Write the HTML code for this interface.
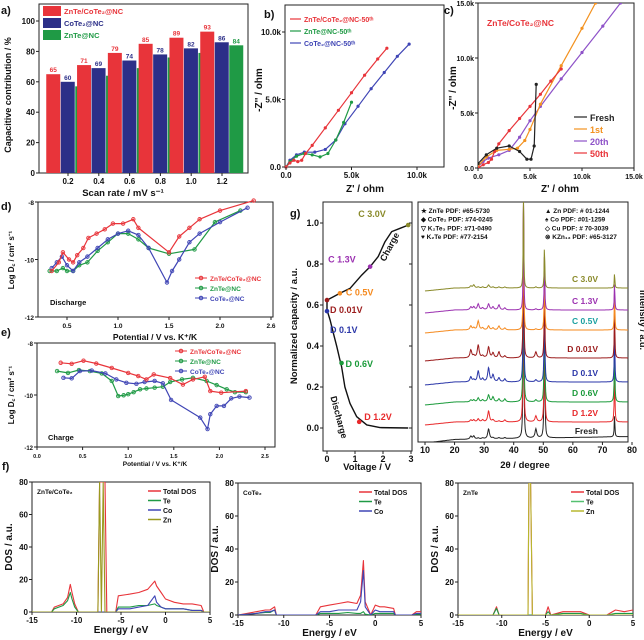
<!DOCTYPE html>
<html><head><meta charset="utf-8"><style>
html,body{margin:0;padding:0;background:#fff}
svg{display:block;font-family:"Liberation Sans",Arial,sans-serif;font-weight:bold}
</style></head><body>
<svg id="fig" width="644" height="640" viewBox="0 0 644 640" xmlns="http://www.w3.org/2000/svg"></svg>
<script>
// ---------- Panel a data ----------
const aRates=[0.2,0.4,0.6,0.8,1.0,1.2];
const aZnCo=[65,71,79,85,89,93];
const aCo=[60,69,74,78,82,86];
const aZn=[57,64,69,76,79,84];
const aYTicks=[0,20,40,60,80,100];
// ---------- Panel b data (k ohm) ----------
const bRedX=[0,0.3,0.6,0.9,1.2,1.5,2,3,4,5,6,7,7.7];
const bRedY=[0,0.3,0.5,0.4,0.5,1.0,1.6,2.9,4.2,5.5,6.8,8,8.8];
const bGreenX=[0,0.3,0.8,1.4,2,2.6,3.2,3.8,4.4,5];
const bGreenY=[0,0.4,0.8,1.0,0.9,0.75,1,2,3.3,4.8];
const bBlueX=[0,0.3,0.8,1.4,2.2,3,3.8,4.5,5.5,6.5,7.5,8.5,9.4];
const bBlueY=[0,0.5,0.9,1.1,1.1,1.3,2.0,3.2,4.5,5.8,7,8.2,9.1];
// ---------- Panel c data ----------
const cFreshX=[0,0.8,1.8,3,4,4.7,5.1,5.4,5.6];
const cFreshY=[0.4,1.2,1.8,2,1.5,0.8,0.8,2,7.6];
const c1stX=[0,0.8,1.8,3,3.8,4.5,5,6,8,10,11.3];
const c1stY=[0.2,1.0,1.6,1.7,1.8,2.5,3.5,5.8,9.3,12.7,15];
const c20X=[0,0.5,1,2,3,4,5,6,8,10,12,13.7];
const c20Y=[0.1,0.6,0.9,1.2,1.6,2.8,4.3,5.6,8.1,10.5,12.9,15];
const c50X=[0,0.5,1,1.3,1.6,2,3,4,5,6,7,8];
const c50Y=[0,0.3,0.5,0.8,1.5,2.2,3.4,4.5,5.6,6.7,7.9,9];
// ---------- Panel d data ----------
const dRedX=[0.35,0.42,0.46,0.52,0.56,0.6,0.66,0.71,0.79,0.87,0.95,1.05,1.15,1.2,1.5,1.6,1.7,1.8,2.0,2.33];
const dRedY=[-10.4,-10.1,-9.75,-10.0,-10.1,-9.85,-9.6,-9.25,-9.1,-8.95,-8.75,-8.75,-8.6,-8.9,-9.75,-9.2,-8.9,-8.6,-8.3,-7.95];
const dGreenX=[0.33,0.4,0.46,0.5,0.56,0.62,0.7,0.8,0.9,1.0,1.1,1.2,1.3,1.5,1.75,1.95,2.2];
const dGreenY=[-10.4,-10.4,-10.3,-10.4,-10.4,-10.2,-10.1,-9.7,-9.4,-9.1,-9.1,-9.3,-9.6,-9.8,-9.65,-8.7,-8.3];
const dBlueX=[0.35,0.4,0.45,0.5,0.56,0.62,0.7,0.8,0.9,1.0,1.1,1.2,1.3,1.48,1.53,1.6,1.7,1.8,2.0,2.27];
const dBlueY=[-10.3,-10.1,-9.9,-10.2,-10.4,-10.1,-9.9,-9.6,-9.3,-9.1,-9.0,-9.15,-9.6,-10.8,-10.4,-10.0,-9.4,-9.1,-8.7,-8.2];
// ---------- Panel e data ----------
const eRedX=[0.26,0.38,0.51,0.65,0.82,1.0,1.11,1.2,1.28,1.46,1.6,1.71,1.84,1.9,2.02,2.29];
const eRedY=[-8.76,-8.8,-8.68,-8.79,-8.96,-9.15,-9.27,-9.4,-9.21,-9.35,-9.6,-9.4,-9.3,-9.85,-9.91,-9.85];
const eGreenX=[0.22,0.34,0.46,0.58,0.71,0.82,0.89,0.95,1.0,1.06,1.13,1.2,1.29,1.38,1.46,1.59,1.71,1.86,1.97,2.08,2.17,2.29];
const eGreenY=[-9.08,-9.15,-9.04,-9.08,-9.17,-9.46,-10.04,-10.01,-9.97,-9.89,-9.78,-9.75,-9.72,-9.68,-9.5,-9.4,-9.34,-9.46,-9.62,-9.78,-9.89,-9.89];
const eBlueX=[0.29,0.38,0.47,0.6,0.75,0.87,0.98,1.09,1.18,1.29,1.38,1.47,1.79,1.87,1.9,1.97,2.05,2.13,2.22,2.33];
const eBlueY=[-9.34,-9.36,-9.08,-9.06,-9.17,-9.4,-9.53,-9.57,-9.5,-9.46,-9.55,-10.19,-10.87,-11.31,-10.74,-10.42,-10.42,-10.13,-10.06,-10.1];
// ---------- Panel g (left) data ----------
const gDisV=[0,0,0.11,0.23,0.35,0.46,0.52,0.64,0.82,1.06,1.42,1.89,2.9];
const gDisC=[0.624,0.576,0.527,0.462,0.397,0.332,0.299,0.2,0.12,0.055,0.015,0.002,0];
const gChV=[0,0.23,0.46,0.82,1.24,1.54,1.83,2.07,2.31,2.61,2.9];
const gChC=[0.624,0.64,0.657,0.681,0.746,0.787,0.836,0.909,0.958,0.974,0.99];
const gStateV=[2.9,1.54,0.46,0,0,0.52,1.15];
const gStateC=[0.99,0.787,0.657,0.624,0.57,0.317,0.03];
const gStateLbl=["C 3.0V","C 1.3V","C 0.5V","D 0.01V","D 0.1V","D 0.6V","D 1.2V"];
// ---------- Panel g (XRD) data ----------
const xrdNames=["C 3.0V","C 1.3V","C 0.5V","D 0.01V","D 0.1V","D 0.6V","D 1.2V","Fresh"];
const xrdPeaks=[25.5,26.5,28,29.5,31.5,33,35,37,43.3,47.5,50.4,74.1];
const xrdInt=[
 [2,3,1,1,3,1,1,1,86,1,45,16],
 [3,3,6,2,6,3,5,2,108,1,62,30],
 [4,2,9,2,4,2,4,2,128,1,78,42],
 [8,2,13,2,11,5,6,2,156,6,92,52],
 [5,2,11,3,14,7,4,3,180,2,116,60],
 [2,2,4,2,7,5,3,3,200,2,130,66],
 [2,2,3,2,11,2,1,2,220,6,150,62],
 [3,3,1,1,10,1,1,1,236,9,168,24]
];
// ---------- Panel f (DOS) data ----------
const f1E=[-15,-12.8,-12.5,-11.5,-11,-10.7,-10.5,-10.2,-9.8,-7.6,-7.4,-7.2,-7.0,-6.8,-6.6,-6.4,-5.6,-5.3,-4,-3,-2,-1.2,-1,-0.5,0,1,2,3,4,4.3,5];
const f1Tot=[0,0,3,5,9,17,12,5,0,0,80,80,80,80,0,0,0,10,11,12,14,19,16,12,8,6,5,5,4,0,0];
const f1Te=[0,0,2,4,7,12,8,3,0,0,0,0,0,0,0,0,0,3,3,4,4,5,4,3,2,2,2,1,1,0,0];
const f1Co=[0,0,0,0,0,0,0,0,0,0,0,0,0,0,0,0,0,2,2,3,4,10,6,3,2,2,2,1,1,0,0];
const f1Zn=[0,0,0,0,0,0,0,0,0,0,80,0,80,0,0,0,0,0,0,0,0,0,0,0,0,0,0,0,0,0,0];
const f2E=[-15,-13,-12,-11.5,-11,-10.8,-6.5,-6,-5,-4,-3,-2,-1.6,-1.3,-1.1,-0.5,0,0.5,1,2,2.2,4,4.5,5];
const f2Tot=[0,2,3,3,5,0,0,5,6,7,8,7,12,33,8,0,6,5,5,4,0,0,2,2];
const f2Te=[0,1,1.5,1.5,3,0,0,1,1,1,1.5,1,1,2,0.5,0,1,1,1,1,0,0,0.5,0.5];
const f2Co=[0,1,2,2,3,0,0,2,2,3,3,3,8,27,5,0,3,2,2,2,0,0,1,1];
const f3E=[-15,-11,-10.6,-10.3,-7,-6.9,-6.7,-6.5,-5,-4.7,-4.4,-3,-2,-1,0,2,3,4,5];
const f3Tot=[0,0,5,0,0,80,80,0,0,5,0,2,2,2,0,0,3,2,3];
const f3Te=[0,0,4,0,0,0,0,0,0,2,0,1,1,1,0,0,1,1,1];
const f3Zn=[0,0,0,0,0,80,80,0,0,0,0,0,0,0,0,0,0,0,0];

const NS="http://www.w3.org/2000/svg";
const svg=document.getElementById('fig');
function mk(tag,attrs,parent){const e=document.createElementNS(NS,tag);for(const k in attrs)e.setAttribute(k,attrs[k]);(parent||svg).appendChild(e);return e;}
function lin(d0,d1,r0,r1){return v=>r0+(v-d0)*(r1-r0)/(d1-d0);}
function txt(x,y,s,size,opt){opt=opt||{};const t=mk('text',{x:x,y:y,'font-size':size,fill:opt.fill||'#111','text-anchor':opt.anchor||'start'},opt.parent);if(opt.rot)t.setAttribute('transform','rotate('+opt.rot+' '+x+' '+y+')');t.textContent=s;


return t;}
function frame(x0,y0,x1,y1,name){const r=mk('rect',{x:x0,y:y0,width:x1-x0,height:y1-y0,fill:'none',stroke:'#222','stroke-width':1});


return r;}
function series(xsArr,ysArr,sx,sy,color,marker,name,w){
 const g=mk('g',{});
 
 
 const pts=xsArr.map((v,i)=>sx(v).toFixed(1)+','+sy(ysArr[i]).toFixed(1)).join(' ');
 mk('polyline',{points:pts,fill:'none',stroke:color,'stroke-width':w||1.2,'stroke-linejoin':'round'},g);
 if(marker){xsArr.forEach((v,i)=>{const c=mk('circle',{cx:sx(v),cy:sy(ysArr[i]),r:marker,fill:color,stroke:color,'stroke-width':0.8,'fill-opacity':marker>1.5?0.35:1},g);
 
 });}
 return g;}
function xticks(vals,sx,y,labels,size,up){vals.forEach((v,i)=>{mk('line',{x1:sx(v),x2:sx(v),y1:y,y2:y+(up?-3:3),stroke:'#222'});if(labels)txt(sx(v),y+11,labels[i],size||8,{anchor:'middle',name:'x-tick-label'});});}
function yticks(vals,sy,x,labels,size){vals.forEach((v,i)=>{mk('line',{x1:x,x2:x-3,y1:sy(v),y2:sy(v),stroke:'#222'});if(labels)txt(x-4,sy(v)+3,labels[i],size||8,{anchor:'end',name:'y-tick-label'});});}
const RED='#e8343a',NAVY='#2c2f88',GREEN='#1f9a45',BLUE='#3f45b5';

// ================= Panel a =================
(function(){
 const x0=39,x1=248,y0=4,y1=173;
 const sy=lin(0,100,173,21),sx=lin(0.2,1.2,68,222);
 frame(x0,y0,x1,y1,'panel-a-frame');
 const cols=[RED,NAVY,GREEN],sets=[aZnCo,aCo,aZn],names=['bar-znte-cote2','bar-cote2','bar-znte'];
 aRates.forEach((r,i)=>{sets.forEach((s,j)=>{const bx=sx(r)+(j-1.5)*14.5;
  const b=mk('rect',{x:bx,y:sy(s[i]),width:14,height:sy(0)-sy(s[i]),fill:cols[j]});
  
  
  txt(bx+7,sy(s[i])-2,String(s[i]),6.5,{anchor:'middle',fill:cols[j],name:'bar-value'});});});
 xticks(aRates,sx,y1,aRates.map(v=>v.toFixed(1)),8);
 yticks(aYTicks,sy,x0,aYTicks.map(String),8);
 txt(123,196,'Scan rate / mV s⁻¹',9.5,{anchor:'middle',name:'x-axis-title'});
 txt(11,95,'Capacitive contribution / %',9,{anchor:'middle',rot:-90,name:'y-axis-title'});
 const leg=[['ZnTe/CoTe₂@NC',RED],['CoTe₂@NC',NAVY],['ZnTe@NC',GREEN]];
 leg.forEach((l,i)=>{const r=mk('rect',{x:43,y:6+i*12,width:18,height:10,fill:l[1]});
  
  
  txt(64,14+i*12,l[0],7.5,{fill:l[1],name:'legend-entry'});});
 txt(1,14,'a)',11,{name:'panel-label-a'});
})();

// ================= Panel b =================
(function(){
 const x0=285,x1=444,y0=5,y1=167;
 const sx=lin(0,10,286,417),sy=lin(0,10,167,32);
 frame(x0,y0,x1,y1,'panel-b-frame');
 series(bBlueX,bBlueY,sx,sy,BLUE,1.2,'series-cote2-50th');
 series(bGreenX,bGreenY,sx,sy,GREEN,1.2,'series-znte-50th');
 series(bRedX,bRedY,sx,sy,RED,1.2,'series-znte-cote2-50th');
 xticks([0,5,10],sx,y1,['0.0','5.0k','10.0k'],8);
 yticks([0,5,10],sy,x0,['0.0','5.0k','10.0k'],8);
 txt(365,192,"Z' / ohm",10,{anchor:'middle',name:'x-axis-title'});
 txt(262,90,"-Z'' / ohm",10,{anchor:'middle',rot:-90,name:'y-axis-title'});
 const leg=[['ZnTe/CoTe₂@NC-50ᵗʰ',RED],['ZnTe@NC-50ᵗʰ',GREEN],['CoTe₂@NC-50ᵗʰ',BLUE]];
 leg.forEach((l,i)=>{mk('line',{x1:290,x2:301,y1:19+i*12,y2:19+i*12,stroke:l[1],'stroke-width':1.2});txt(304,22+i*12,l[0],7,{fill:l[1],name:'legend-entry'});});
 txt(264,18,'b)',11,{name:'panel-label-b'});
})();

// ================= Panel c =================
(function(){
 const x0=478,x1=634,y0=3,y1=168;
 const sx=lin(0,15,478,634),sy=lin(0,15,168,3);
 frame(x0,y0,x1,y1,'panel-c-frame');
 const clip=mk('clipPath',{id:'clipc'});mk('rect',{x:x0,y:y0,width:x1-x0,height:y1-y0},clip);
 const g=mk('g',{'clip-path':'url(#clipc)'});
 g.appendChild(series(c20X,c20Y,sx,sy,'#8e52c8',1.2,'series-20th'));
 g.appendChild(series(c1stX,c1stY,sx,sy,'#f39220',1.2,'series-1st'));
 g.appendChild(series(c50X,c50Y,sx,sy,'#e8343a',1.2,'series-50th'));
 g.appendChild(series(cFreshX,cFreshY,sx,sy,'#222',1.2,'series-fresh'));
 xticks([0,5,10,15],sx,y1,['0.0','5.0k','10.0k','15.0k'],7);
 yticks([0,5,10,15],sy,x0,['0.0','5.0k','10.0k','15.0k'],7);
 txt(560,192,"Z' / ohm",10,{anchor:'middle',name:'x-axis-title'});
 txt(456,88,"-Z'' / ohm",10,{anchor:'middle',rot:-90,name:'y-axis-title'});
 txt(487,26,'ZnTe/CoTe₂@NC',8.5,{fill:RED,name:'panel-c-title'});
 const leg=[['Fresh','#222'],['1st','#f39220'],['20th','#8e52c8'],['50th',RED]];
 leg.forEach((l,i)=>{mk('line',{x1:574,x2:587,y1:117+i*12,y2:117+i*12,stroke:l[1],'stroke-width':1.2});txt(590,121+i*12,l[0],9,{fill:l[1],name:'legend-entry'});});
 txt(444,14,'c)',11,{name:'panel-label-c'});
})();

// ================= Panel d =================
(function(){
 const x0=38,x1=273,y0=202,y1=317;
 const sx=lin(0.5,2.5,67,271),sy=lin(-8,-12,202,317);
 frame(x0,y0,x1,y1,'panel-d-frame');
 series(dGreenX,dGreenY,sx,sy,GREEN,1.8,'series-d-znte');
 series(dBlueX,dBlueY,sx,sy,BLUE,1.8,'series-d-cote2');
 series(dRedX,dRedY,sx,sy,RED,1.8,'series-d-znte-cote2');
 xticks([0.5,1,1.5,2,2.5],sx,y1,['0.5','1.0','1.5','2.0','2.6'],6.5);
 yticks([-8,-10,-12],sy,x0,['-8','-10','-12'],6.5);
 txt(155,340,'Potential / V vs. K⁺/K',8.5,{anchor:'middle',name:'x-axis-title'});
 txt(14,260,'Log D꜀ / cm² s⁻¹',8,{anchor:'middle',rot:-90,name:'y-axis-title'});
 txt(50,305,'Discharge',7.5,{name:'discharge-label'});
 const leg=[['ZnTe/CoTe₂@NC',RED],['ZnTe@NC',GREEN],['CoTe₂@NC',BLUE]];
 leg.forEach((l,i)=>{mk('line',{x1:195,x2:207,y1:278+i*10,y2:278+i*10,stroke:l[1]});mk('circle',{cx:201,cy:278+i*10,r:1.8,fill:l[1],'fill-opacity':0.35,stroke:l[1]});txt(210,281+i*10,l[0],6.5,{fill:l[1],name:'legend-entry'});});
 txt(1,210,'d)',11,{name:'panel-label-d'});
})();

// ================= Panel e =================
(function(){
 const x0=37,x1=275,y0=343,y1=447;
 const sx=lin(0,2.5,37,265),sy=lin(-8,-12,343,447);
 frame(x0,y0,x1,y1,'panel-e-frame');
 series(eGreenX,eGreenY,sx,sy,GREEN,1.8,'series-e-znte');
 series(eBlueX,eBlueY,sx,sy,BLUE,1.8,'series-e-cote2');
 series(eRedX,eRedY,sx,sy,RED,1.8,'series-e-znte-cote2');
 xticks([0,0.5,1,1.5,2,2.5],sx,y1,['0.0','0.5','1.0','1.5','2.0','2.5'],5.5);
 yticks([-8,-10,-12],sy,x0,['-8','-10','-12'],6);
 txt(155,466,'Potential / V vs. K⁺/K',6.5,{anchor:'middle',name:'x-axis-title'});
 txt(14,395,'Log D꜀ / cm² s⁻¹',8,{anchor:'middle',rot:-90,name:'y-axis-title'});
 txt(48,440,'Charge',7.5,{name:'charge-label'});
 const leg=[['ZnTe/CoTe₂@NC',RED],['ZnTe@NC',GREEN],['CoTe₂@NC',BLUE]];
 leg.forEach((l,i)=>{mk('line',{x1:175,x2:187,y1:351+i*10,y2:351+i*10,stroke:l[1]});mk('circle',{cx:181,cy:351+i*10,r:1.8,fill:l[1],'fill-opacity':0.35,stroke:l[1]});txt(190,354+i*10,l[0],6.5,{fill:l[1],name:'legend-entry'});});
 txt(1,336,'e)',11,{name:'panel-label-e'});
})();

// ================= Panel g (left) =================
(function(){
 const x0=323,x1=412,y0=202,y1=451;
 const sx=lin(0,3,327,411),sy=lin(0,1,428,223);
 frame(x0,y0,x1,y1,'panel-g-voltage-frame');
 series(gDisV,gDisC,sx,sy,'#111',0,'discharge-curve',1.4);
 series(gChV,gChC,sx,sy,'#111',0,'charge-curve',1.4);
 const cols=['#8a8a2a','#9b30b0','#f58a1f','#9b1b1b','#2a36a8','#1a9a3a','#e8292b'];
 const off=[[-50,-8],[-42,-4],[6,2],[3,13],[3,22],[4,4],[5,-2]];
 gStateV.forEach((v,i)=>{const c=mk('circle',{cx:sx(v),cy:sy(gStateC[i]),r:2.3,fill:cols[i]});
  
  
  txt(sx(v)+off[i][0],sy(gStateC[i])+off[i][1],gStateLbl[i],9,{fill:cols[i],name:'state-label'});});
 const t=[0,0.2,0.4,0.6,0.8,1.0];
 yticks(t,sy,x0,t.map(v=>v.toFixed(1)),9);
 t.forEach(v=>mk('line',{x1:x1,x2:x1-3,y1:sy(v),y2:sy(v),stroke:'#222'}));
 xticks([0,1,2,3],sx,y1,['0','1','2','3'],9);
 txt(367,470,'Voltage / V',9.5,{anchor:'middle',name:'x-axis-title'});
 txt(297,326,'Normalized capacity / a.u.',9.5,{anchor:'middle',rot:-90,name:'y-axis-title'});
 txt(385,262,'Charge',9,{rot:-62,name:'charge-annotation'});
 txt(336,418,'Discharge',9,{rot:75,anchor:'middle',name:'discharge-annotation'});
 txt(290,217,'g)',11,{name:'panel-label-g'});
})();

// ================= Panel g (XRD) =================
(function(){
 const x0=418,x1=628,y0=202,y1=442;
 const sx=lin(10,80,425,632);
 frame(x0,y0,x1,y1,'panel-g-xrd-frame');
 const base=[288,310,330,358,382,402,422,440];
 const cols=['#8a8a2a','#9b30b0','#f58a1f','#9b1b1b','#2a36a8','#1a9a3a','#e8292b','#222'];
 const lc=['#8a8a2a','#9b30b0','#1aa0a0','#9b1b1b','#2a36a8','#1a9a3a','#e8292b','#222'];
 const clip=mk('clipPath',{id:'clipx'});mk('rect',{x:x0,y:y0,width:x1-x0,height:y1-y0},clip);
 const g=mk('g',{'clip-path':'url(#clipx)'});
 for(let k=7;k>=0;k--){
  const pts=[];
  for(let t=10;t<=80.01;t+=0.15){let v=0;xrdPeaks.forEach((p,j)=>{const w=(j==8||j==10||j==11)?0.12:0.35;v+=xrdInt[k][j]/(1+((t-p)/w)*((t-p)/w));});
   const slope=(k==7?(t-10)*0.05:0);
   pts.push(sx(t).toFixed(1)+','+(base[k]-v-slope+ (t<20?(20-t)*0.3:0)).toFixed(1));}
  const pl=mk('polyline',{points:pts.join(' '),fill:'none',stroke:cols[k],'stroke-width':1},g);
  
  
  txt(598,base[k]-6,xrdNames[k],8.5,{fill:lc[k],anchor:'end',name:'pattern-label'});
 }
 const tx=[10,20,30,40,50,60,70,80];
 xticks(tx,sx,y1,tx.map(String),9);
 txt(525,468,'2θ / degree',9.5,{anchor:'middle',name:'x-axis-title'});
 txt(640,320,'Intensity / a.u.',9,{anchor:'middle',rot:90,name:'y-axis-title'});
 const L=[['★ ZnTe  PDF: #65-5730',RED],['◆ CoTe₂ PDF: #74-0245',GREEN],['▽ K₂Te₃ PDF: #71-0490','#8e52c8'],['♥ K₂Te  PDF: #77-2154','#b040a0']];
 L.forEach((l,i)=>txt(421,213+i*8.7,l[0],6.5,{fill:'#111',name:'legend-entry'}));
 const R=[['▲ Zn PDF: # 01-1244','#111'],['♠ Co PDF: #01-1259','#111'],['◇ Cu PDF: # 70-3039','#111'],['⊗ KZn₁₃ PDF: #65-3127','#111']];
 R.forEach((l,i)=>txt(545,213+i*8.7,l[0],6.5,{fill:l[1],name:'legend-entry'}));
})();

// ================= Panel f (DOS) =================
function dosPanel(x0,x1,y0,y1,E,curves,title,legend,label){
 const sx=lin(-15,5,x0,x1),sy=lin(0,80,y1,y0);
 frame(x0,y0,x1,y1,label+'-frame');
 const id='clip'+label;const cp=mk('clipPath',{id:id});mk('rect',{x:x0,y:y0,width:x1-x0,height:y1-y0},cp);
 const g=mk('g',{'clip-path':'url(#'+id+')'});
 curves.forEach(c=>g.appendChild(series(E,c[0],sx,sy,c[1],0,c[2],1.1)));
 xticks([-15,-10,-5,0,5],sx,y1,['-15','-10','-5','0','5'],8);
 yticks([0,20,40,60,80],sy,x0,['0','20','40','60','80'],8);
 txt((x0+x1)/2,y1+21,'Energy / eV',10,{anchor:'middle',name:'x-axis-title'});
 txt(x0-20,(y0+y1)/2,'DOS / a.u.',10,{anchor:'middle',rot:-90,name:'y-axis-title'});
 txt(x0+5,y0+12,title,6.5,{name:'dos-title'});
 legend.forEach((l,i)=>{mk('line',{x1:x1-62,x2:x1-49,y1:y0+9+i*9.5,y2:y0+9+i*9.5,stroke:l[1],'stroke-width':1.5});txt(x1-47,y0+12+i*9.5,l[0],7,{name:'legend-entry'});});
}
dosPanel(32,210,482,612,f1E,[[f1Tot,RED,'total-dos'],[f1Te,GREEN,'te-dos'],[f1Co,BLUE,'co-dos'],[f1Zn,'#9a9a20','zn-dos']],'ZnTe/CoTe₂',[['Total DOS',RED],['Te',GREEN],['Co',BLUE],['Zn','#9a9a20']],'dos1');
dosPanel(238,421,483,615,f2E,[[f2Tot,RED,'total-dos'],[f2Te,GREEN,'te-dos'],[f2Co,BLUE,'co-dos']],'CoTe₂',[['Total DOS',RED],['Te',GREEN],['Co',BLUE]],'dos2');
dosPanel(458,633,483,615,f3E,[[f3Tot,RED,'total-dos'],[f3Te,GREEN,'te-dos'],[f3Zn,'#b8b830','zn-dos']],'ZnTe',[['Total DOS',RED],['Te','#55c070'],['Zn','#b8b830']],'dos3');
txt(2,470,'f)',11,{name:'panel-label-f'});
</script>
</body></html>
